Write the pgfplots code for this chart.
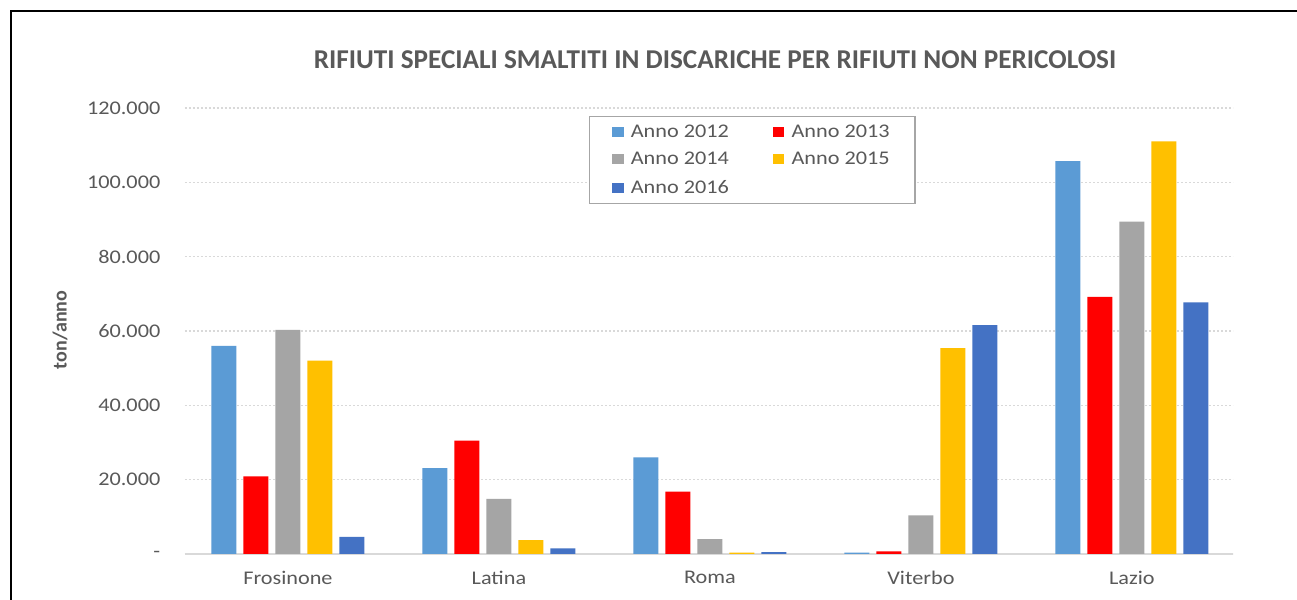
\documentclass[border=0pt]{standalone}
\usepackage{fontspec}
\setmainfont{Carlito}[FakeStretch=1.15]
\newfontfamily\titlefont{Carlito}
\usepackage{pgfplots}
\pgfplotsset{compat=1.18}
\definecolor{c12}{HTML}{5B9BD5}
\definecolor{c13}{HTML}{FF0000}
\definecolor{c14}{HTML}{A5A5A5}
\definecolor{c15}{HTML}{FFC000}
\definecolor{c16}{HTML}{4472C4}
\definecolor{txt}{HTML}{595959}
\definecolor{gridc}{HTML}{D9D9D9}
\definecolor{legb}{HTML}{A6A6A6}
\begin{document}
\begin{tikzpicture}[x=0.75pt,y=0.75pt]
\useasboundingbox (0,0) rectangle (1297,600);
\fill[white] (0,0) rectangle (1297,600);
\draw[black, line width=1.6pt] (11,0) -- (11,589) -- (1300,589);
\node[font=\titlefont\bfseries\fontsize{20.4}{22}\selectfont, text=txt] at (715,540) {RIFIUTI SPECIALI SMALTITI IN DISCARICHE PER RIFIUTI NON PERICOLOSI};
\node[font=\titlefont\bfseries\fontsize{15}{17}\selectfont, text=txt, rotate=90] at (60,270) {ton/anno};
\begin{axis}[
  at={(138.75pt,34.5pt)}, anchor=south west,
  scale only axis, width=786pt, height=334.5pt,
  xmin=-0.488, xmax=4.479, ymin=0, ymax=120000,
  scaled y ticks=false,
  ybar=5.25pt, bar width=18.75pt,
  axis x line*=bottom, axis y line*=left,
  x axis line style={draw=gridc, line width=0.9pt},
  y axis line style={draw=none},
  major tick length=0pt,
  ymajorgrids, grid style={draw=gridc, line width=1pt, dash pattern=on 1.2pt off 1.8pt},
  ytick={0,20000,40000,60000,80000,100000,120000},
  yticklabels={{-},{20.000},{40.000},{60.000},{80.000},{100.000},{120.000}},
  xtick={0,1,2,3,4},
  xticklabels={Frosinone,Latina,Roma,Viterbo,Lazio},
  tick label style={font=\fontsize{14.5}{16}\selectfont, text=txt},
  yticklabel style={xshift=-15pt},
  xticklabel style={yshift=-9pt},
  legend columns=2,
  legend style={at={(0.3855,0.982)}, anchor=north west, draw=legb, line width=0.8pt,
    font=\fontsize{14.5}{16}\selectfont, text=txt, row sep=6pt, inner xsep=17pt, inner ysep=4pt,
    /tikz/every odd column/.append style={column sep=3.5pt},
    /tikz/every even column/.append style={column sep=31pt}},
  legend cell align=left,
  legend image code/.code={\fill[#1] (2pt,-3.5pt) rectangle (10.5pt,4pt);},
]
\addplot[fill=c12, draw=none] coordinates {(0,56000) (1,23100) (2,26000) (3,400) (4,105700)};
\addplot[fill=c13, draw=none] coordinates {(0,20900) (1,30500) (2,16800) (3,700) (4,69200)};
\addplot[fill=c14, draw=none] coordinates {(0,60300) (1,14800) (2,4000) (3,10400) (4,89400)};
\addplot[fill=c15, draw=none] coordinates {(0,52000) (1,3700) (2,400) (3,55400) (4,111000)};
\addplot[fill=c16, draw=none] coordinates {(0,4600) (1,1500) (2,500) (3,61600) (4,67700)};
\legend{Anno 2012,Anno 2013,Anno 2014,Anno 2015,Anno 2016}
\end{axis}
\end{tikzpicture}
\end{document}
